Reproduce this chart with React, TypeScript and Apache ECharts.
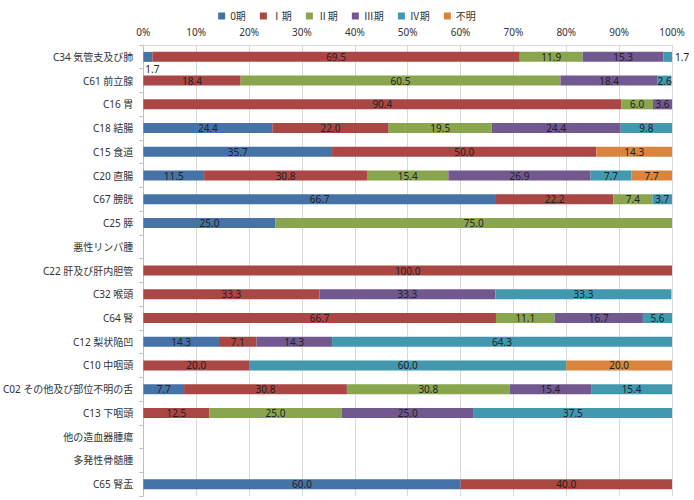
import React, { useEffect, useRef } from "react";
import * as echarts from "echarts";

const categories = [
  "C34 気管支及び肺",
  "C61 前立腺",
  "C16 胃",
  "C18 結腸",
  "C15 食道",
  "C20 直腸",
  "C67 膀胱",
  "C25 膵",
  "悪性リンパ腫",
  "C22 肝及び肝内胆管",
  "C32 喉頭",
  "C64 腎",
  "C12 梨状陥凹",
  "C10 中咽頭",
  "C02 その他及び部位不明の舌",
  "C13 下咽頭",
  "他の造血器腫瘍",
  "多発性骨髄腫",
  "C65 腎盂",
];

const seriesNames = ["0期", "Ⅰ期", "Ⅱ期", "Ⅲ期", "Ⅳ期", "不明"];
const colors = ["#4572A7", "#AA4643", "#89A54E", "#71588F", "#4198AF", "#DB843D"];

const stage0 = [1.7, 0, 0, 24.4, 35.7, 11.5, 66.7, 25.0, 0, 0, 0, 0, 14.3, 0, 7.7, 0, 0, 0, 60.0];
const stage1 = [69.5, 18.4, 90.4, 22.0, 50.0, 30.8, 22.2, 0, 0, 100.0, 33.3, 66.7, 7.1, 20.0, 30.8, 12.5, 0, 0, 40.0];
const stage2 = [11.9, 60.5, 6.0, 19.5, 0, 15.4, 7.4, 75.0, 0, 0, 0, 11.1, 0, 0, 30.8, 25.0, 0, 0, 0];
const stage3 = [15.3, 18.4, 3.6, 24.4, 0, 26.9, 0, 0, 0, 0, 33.3, 16.7, 14.3, 0, 15.4, 25.0, 0, 0, 0];
const stage4 = [1.7, 2.6, 0, 9.8, 0, 7.7, 3.7, 0, 0, 0, 33.3, 5.6, 64.3, 60.0, 15.4, 37.5, 0, 0, 0];
const unknown = [0, 0, 0, 0, 14.3, 7.7, 0, 0, 0, 0, 0, 0, 0, 20.0, 0, 0, 0, 0, 0];

const allValues = [stage0, stage1, stage2, stage3, stage4, unknown];

const FONT = "'Noto Sans', 'Noto Sans CJK JP', sans-serif";

export default function App() {
  const ref = useRef<HTMLDivElement>(null);
  useEffect(() => {
    if (!ref.current) return;
    const chart = echarts.init(ref.current, undefined, { renderer: "svg" });
    const series = allValues.map((vals, si) => ({
      name: seriesNames[si],
      type: "bar",
      stack: "total",
      barWidth: 10,
      itemStyle: { color: colors[si] },
      label: {
        show: true,
        position: "inside",
        color: "#222",
        fontSize: 10,
        fontFamily: FONT,
        formatter: (p: any) => (p.value ? Number(p.value).toFixed(1) : ""),
      },
      data: vals.map((v, i) => {
        if (!v) return null;
        if (i === 0 && si === 0) {
          return { value: v, label: { position: [2, 12] } };
        }
        if (i === 0 && si === 4) {
          return { value: v, label: { position: "right", distance: 3 } };
        }
        return v;
      }),
    }));
    chart.setOption({
      animation: false,
      textStyle: { fontFamily: FONT },
      color: colors,
      legend: {
        top: 6,
        left: "center",
        itemWidth: 7,
        itemHeight: 7,
        itemGap: 14,
        icon: "rect",
        textStyle: { fontSize: 10, color: "#333", fontFamily: FONT },
        data: seriesNames,
      },
      grid: { left: 140, right: 22, top: 45, bottom: 4, containLabel: false },
      xAxis: {
        type: "value",
        position: "top",
        min: 0,
        max: 100,
        interval: 10,
        axisLabel: { formatter: "{value}%", fontSize: 10, color: "#333", margin: 8 },
        axisLine: { show: true, lineStyle: { color: "#d9d9d9" } },
        axisTick: { show: false },
        splitLine: { show: true, lineStyle: { color: "#d9d9d9" } },
      },
      yAxis: {
        type: "category",
        inverse: true,
        data: categories,
        axisLine: { show: true, lineStyle: { color: "#bfbfbf" } },
        axisTick: { show: true, length: 4, lineStyle: { color: "#bfbfbf" } },
        axisLabel: { fontSize: 10, color: "#333", margin: 10 },
      },
      series,
    });
    return () => chart.dispose();
  }, []);
  return <div ref={ref} style={{ width: 694, height: 500, position: "absolute", left: 0, top: 0 }} />;
}
